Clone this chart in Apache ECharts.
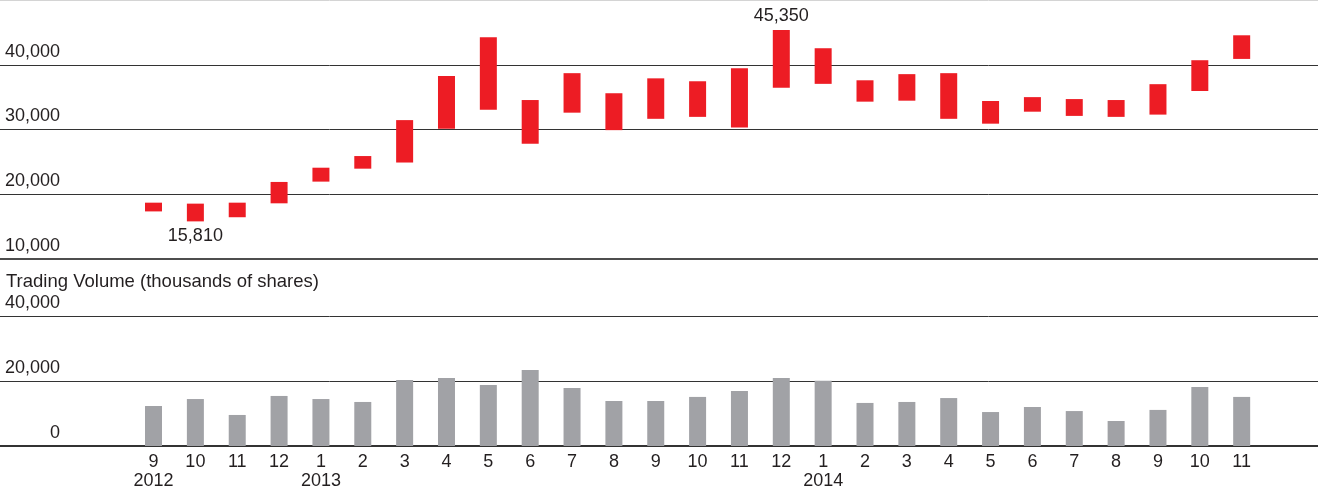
<!DOCTYPE html>
<html>
<head>
<meta charset="utf-8">
<script src="https://cdn.jsdelivr.net/npm/echarts@6/dist/echarts.min.js"></script>
<style>
  html, body { margin: 0; padding: 0; background: #fff; }
  #chart { width: 1318px; height: 491px; }
</style>
</head>
<body>
<div id="chart"></div>
<script>
// Monthly share price range (yen) and trading volume, Sep 2012 – Nov 2014
const months = ['9','10','11','12','1','2','3','4','5','6','7','8','9','10','11','12','1','2','3','4','5','6','7','8','9','10','11'];
const years  = ['2012','','','','2013','','','','','','','','','','','','2014','','','','','','','','','',''];

const priceHigh = [18700, 18550, 18700, 21900, 24100, 25900, 31450, 38250, 44250, 34550, 38700, 35600, 37900, 37450,
                   39450, 45350, 42550, 37600, 38550, 38700, 34400, 35000, 34700, 34550, 37000, 40700, 44550];
const priceLow  = [17350, 15810, 16450, 18600, 21950, 23950, 24900, 30100, 33050, 27800, 32600, 29900, 31650, 31950,
                   30300, 36450, 37050, 34300, 34450, 31650, 30900, 32750, 32100, 31950, 32300, 35950, 40900];

// Trading volume, thousands of shares
const volume = [12300, 14450, 9550, 15400, 14450, 13550, 20300, 20900, 18750, 23400, 17850, 13850, 13850, 15100,
                16900, 20900, 20100, 13250, 13550, 14750, 10450, 12000, 10750, 7700, 11100, 18150, 15100];

const volumeTitle = 'Trading Volume (thousands of shares)';

// Unique category keys (month names repeat across years)
let curYear = '';
const categories = months.map((m, i) => { if (years[i]) curYear = years[i]; return curYear + '-' + m; });

const FONT = "'Liberation Sans', Arial, Helvetica, sans-serif";
const TEXT = '#231f20';
const RED = '#ed1c24';
const GRAY = '#a1a2a6';
const fmt = v => Math.round(v).toLocaleString('en-US');

// plot area for the bars; rule lines span the full width
const PLOT_LEFT = 132.6;
const PLOT_WIDTH = 1130;
const PRICE_TOP = 0, PRICE_H = 259;
const VOL_TOP = 316, VOL_H = 130;

const iMax = priceHigh.indexOf(Math.max(...priceHigh));
const iMin = priceLow.indexOf(Math.min(...priceLow));

const rangeData = priceHigh.map((h, i) => {
  const item = { value: h - priceLow[i] };
  if (i === iMax) {
    item.label = { show: true, position: 'top', distance: 5, formatter: () => fmt(priceHigh[i]) };
  } else if (i === iMin) {
    item.label = { show: true, position: 'bottom', distance: 6, formatter: () => fmt(priceLow[i]) };
  }
  return item;
});

const ruleLabel = {
  inside: true, align: 'right', margin: 60, verticalAlign: 'bottom',
  lineHeight: 18, padding: [0, 0, 4, 0],
  fontFamily: FONT, fontSize: 18, color: TEXT
};

const gridBase = { outerBoundsMode: 'none', containLabel: false };

const chart = echarts.init(document.getElementById('chart'), null, { renderer: 'canvas' });
chart.setOption({
  animation: false,
  backgroundColor: '#fff',
  textStyle: { fontFamily: FONT },
  title: {
    text: volumeTitle, left: 6, top: 272, padding: 0,
    textStyle: { fontFamily: FONT, fontSize: 18.5, fontWeight: 'normal', color: TEXT }
  },
  grid: [
    Object.assign({ left: PLOT_LEFT, width: PLOT_WIDTH, top: PRICE_TOP, height: PRICE_H }, gridBase),
    Object.assign({ left: PLOT_LEFT, width: PLOT_WIDTH, top: VOL_TOP, height: VOL_H }, gridBase),
    Object.assign({ left: 0, right: 0, top: PRICE_TOP, height: PRICE_H }, gridBase),
    Object.assign({ left: 0, right: 0, top: VOL_TOP, height: VOL_H }, gridBase)
  ],
  xAxis: [
    { type: 'category', gridIndex: 0, data: categories, show: false },
    {
      type: 'category', gridIndex: 1, data: categories,
      axisLine: { show: false }, axisTick: { show: false },
      axisLabel: {
        interval: 0, margin: 6, lineHeight: 19.5,
        fontFamily: FONT, fontSize: 18, color: TEXT,
        formatter: (v, i) => years[i] ? months[i] + '\n' + years[i] : months[i]
      }
    },
    {
      type: 'value', gridIndex: 2, min: 0, max: 1,
      axisLine: { show: true, onZero: false, lineStyle: { color: '#4d4d4d', width: 2 } },
      axisTick: { show: false }, axisLabel: { show: false }, splitLine: { show: false }
    },
    {
      type: 'value', gridIndex: 3, min: 0, max: 1,
      axisLine: { show: true, onZero: false, lineStyle: { color: '#333', width: 2 } },
      axisTick: { show: false }, axisLabel: { show: false }, splitLine: { show: false }
    }
  ],
  yAxis: [
    { type: 'value', gridIndex: 0, min: 10000, max: 50000, show: false },
    { type: 'value', gridIndex: 1, min: 0, max: 40000, show: false },
    {
      type: 'value', gridIndex: 2, min: 10000, max: 50000, interval: 10000,
      axisLine: { show: false }, axisTick: { show: false },
      splitLine: { show: true, lineStyle: { width: 1, color: ['#4d4d4d', '#333', '#333', '#333', '#d4d4d4'] } },
      axisLabel: Object.assign({}, ruleLabel, { formatter: v => v >= 50000 ? '' : fmt(v) })
    },
    {
      type: 'value', gridIndex: 3, min: 0, max: 40000, interval: 20000,
      axisLine: { show: false }, axisTick: { show: false },
      splitLine: { show: true, lineStyle: { width: 1, color: '#333' } },
      axisLabel: Object.assign({}, ruleLabel, { formatter: v => fmt(v) })
    }
  ],
  series: [
    {
      name: 'low', type: 'bar', xAxisIndex: 0, yAxisIndex: 0, stack: 'price',
      barWidth: 17, silent: true, itemStyle: { color: 'rgba(0,0,0,0)' },
      data: priceLow
    },
    {
      name: 'price range', type: 'bar', xAxisIndex: 0, yAxisIndex: 0, stack: 'price',
      barWidth: 17, itemStyle: { color: RED },
      label: { show: false, fontFamily: FONT, fontSize: 18, color: TEXT },
      data: rangeData
    },
    {
      name: 'volume', type: 'bar', xAxisIndex: 1, yAxisIndex: 1,
      barWidth: 17, itemStyle: { color: GRAY },
      data: volume
    }
  ]
});
</script>
</body>
</html>
